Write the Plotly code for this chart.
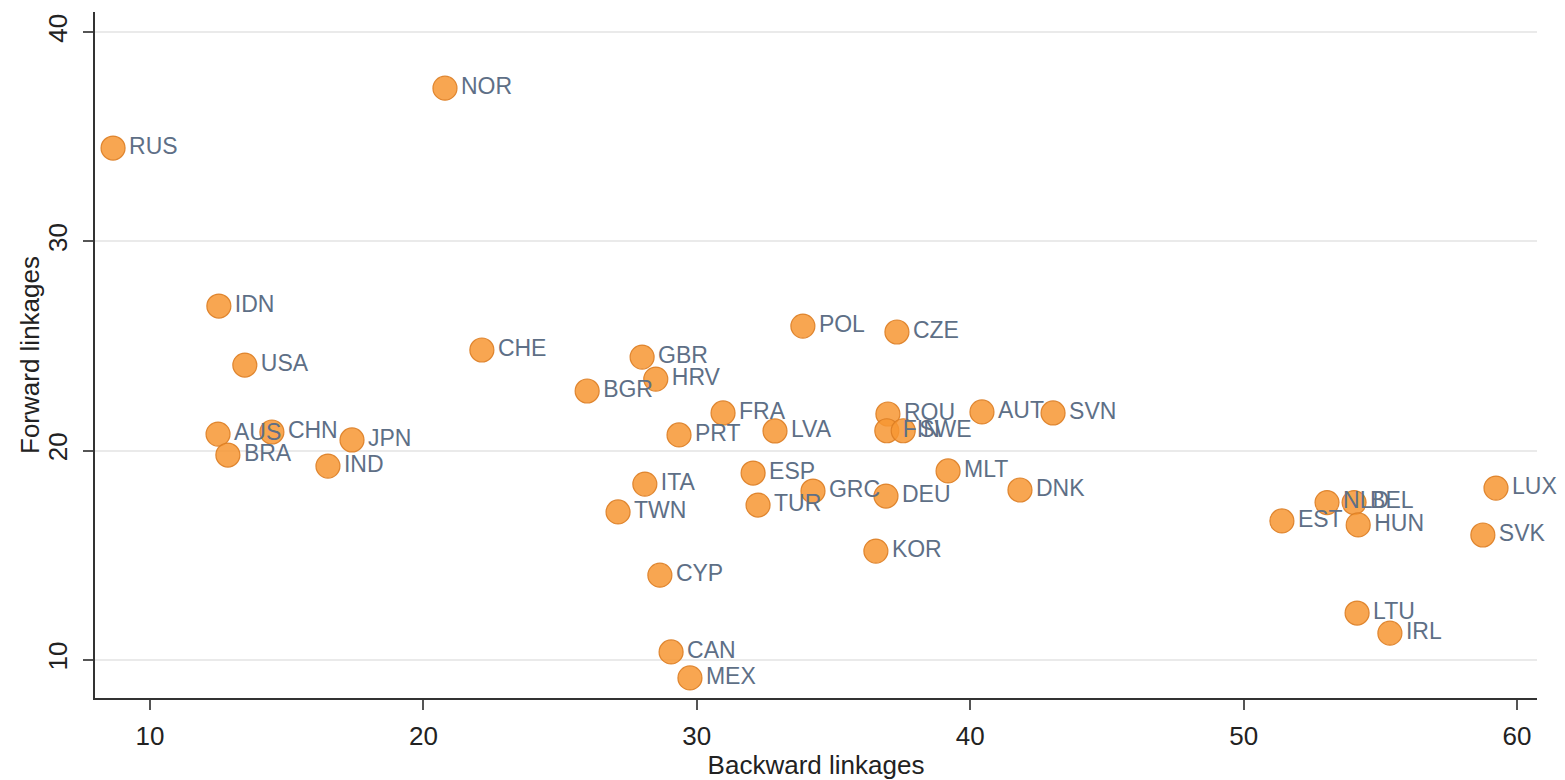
import plotly.graph_objects as go

# Country codes with backward and forward GVC linkages
countries = ["RUS", "NOR", "IDN", "USA", "CHE", "AUS", "CHN", "BRA", "JPN", "IND",
             "BGR", "GBR", "HRV", "FRA", "PRT", "LVA", "POL", "CZE", "ITA", "TWN",
             "ESP", "TUR", "GRC", "DEU", "CYP", "CAN", "MEX", "KOR", "ROU", "FIN",
             "SWE", "AUT", "SVN", "MLT", "DNK", "EST", "NLD", "BEL", "HUN", "LTU",
             "IRL", "LUX", "SVK"]
backward = [8.65, 20.79, 12.52, 13.47, 22.14, 12.49, 14.46, 12.85, 17.39, 16.51,
            25.99, 28.0, 28.5, 30.96, 29.35, 32.86, 33.88, 37.32, 28.1, 27.12,
            32.06, 32.24, 34.25, 36.92, 28.65, 29.06, 29.75, 36.55, 36.99, 36.95,
            37.55, 40.43, 43.03, 39.19, 41.82, 51.4, 53.05, 54.04, 54.19, 54.15,
            55.35, 59.23, 58.75]
forward = [34.46, 37.32, 26.91, 24.09, 24.81, 20.79, 20.89, 19.79, 20.51, 19.26,
           22.85, 24.47, 23.42, 21.8, 20.75, 20.94, 25.95, 25.67, 18.4, 17.07,
           18.93, 17.40, 18.07, 17.83, 14.05, 10.38, 9.14, 15.20, 21.75, 20.95,
           20.95, 21.85, 21.8, 19.03, 18.12, 16.64, 17.52, 17.52, 16.45, 12.24,
           11.28, 18.21, 15.97]

x_ticks = [10, 20, 30, 40, 50, 60]
y_ticks = [10, 20, 30, 40]

FONT = "Liberation Sans, Arial, sans-serif"

fig = go.Figure(
    go.Scatter(
        x=backward,
        y=forward,
        mode="markers+text",
        text=countries,
        textposition="middle right",
        textfont=dict(family=FONT, size=23, color="#5E6F86"),
        marker=dict(size=24, color="rgba(247,150,50,0.85)",
                    line=dict(color="rgba(220,125,35,0.9)", width=1.2)),
        cliponaxis=False,
        hoverinfo="skip",
    )
)

axis_font = dict(family=FONT, size=26, color="#222222")
title_font = dict(family=FONT, size=26, color="#222222")

fig.update_layout(
    width=1565,
    height=780,
    margin=dict(l=95, r=28, t=12, b=82),
    paper_bgcolor="white",
    plot_bgcolor="white",
    showlegend=False,
    xaxis=dict(
        range=[7.99, 60.73],
        tickmode="array",
        tickvals=x_ticks,
        ticktext=[str(v) for v in x_ticks],
        showgrid=False,
        zeroline=False,
        showline=True,
        linecolor="#333333",
        linewidth=1.5,
        ticks="outside",
        ticklen=10,
        tickwidth=1.5,
        tickcolor="#555555",
        tickfont=axis_font,
        ticklabelstandoff=4,
        title=dict(text="Backward linkages", font=title_font, standoff=0),
    ),
    yaxis=dict(
        range=[8.18, 40.96],
        tickmode="array",
        tickvals=y_ticks,
        ticktext=[str(v) for v in y_ticks],
        tickangle=-90,
        showgrid=True,
        gridcolor="#EAEAEA",
        gridwidth=2,
        zeroline=False,
        showline=True,
        linecolor="#333333",
        linewidth=1.5,
        ticks="outside",
        ticklen=10,
        tickwidth=1.5,
        tickcolor="#555555",
        tickfont=axis_font,
        ticklabelstandoff=6,
    ),
    annotations=[
        dict(
            text="Forward linkages",
            xref="paper", yref="paper",
            x=0, y=0.5,
            xshift=-65,
            xanchor="center", yanchor="middle",
            textangle=-90,
            showarrow=False,
            font=title_font,
        )
    ],
)

fig.write_html("out.html")
